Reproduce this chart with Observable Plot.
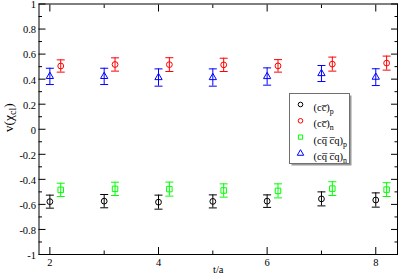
<!DOCTYPE html>
<html>
<head>
<meta charset="utf-8">
<script src="https://cdn.jsdelivr.net/npm/d3@7"></script>
<script src="https://cdn.jsdelivr.net/npm/@observablehq/plot@0.6"></script>
<style>
  html, body { margin: 0; padding: 0; background: white; }
  svg text { font-family: "Liberation Serif", "DejaVu Serif", serif !important; }
</style>
</head>
<body>
<div id="chart"></div>
<script>
// ---- data ----
const tA = [2, 3, 4, 5, 6, 7, 8];              // black circles / blue triangles
const tB = [2.2, 3.2, 4.2, 5.2, 6.2, 7.2, 8.2]; // red circles / green squares (shifted)

const ccP  = [-0.578, -0.574, -0.582, -0.576, -0.574, -0.556, -0.565];
const ccPe = [0.052, 0.053, 0.056, 0.052, 0.050, 0.056, 0.057];
const ccN  = [0.505, 0.517, 0.516, 0.514, 0.506, 0.520, 0.528];
const ccNe = [0.049, 0.053, 0.055, 0.053, 0.050, 0.056, 0.056];
const cqP  = [-0.484, -0.476, -0.478, -0.489, -0.492, -0.474, -0.482];
const cqPe = [0.053, 0.053, 0.056, 0.053, 0.056, 0.055, 0.055];
const cqN  = [0.422, 0.422, 0.413, 0.413, 0.421, 0.445, 0.416];
const cqNe = [0.065, 0.065, 0.069, 0.069, 0.069, 0.064, 0.067];

const seriesNames = ["(cc\u0305)_{p}", "(cc\u0305)_{n}", "(cq\u0305 c\u0305q)_{p}", "(cq\u0305 c\u0305q)_{n}"];

const xMajor = [2, 4, 6, 8];
const xMinor = [3, 5, 7];
const yMajor = [-1, -0.8, -0.6, -0.4, -0.2, 0, 0.2, 0.4, 0.6, 0.8, 1];
const yMinor = [-0.9, -0.7, -0.5, -0.3, -0.1, 0.1, 0.3, 0.5, 0.7, 0.9];

// ---- build tables ----
const mk = (ts, vs, es) => ts.map((t, i) => ({t, v: vs[i], e: es[i]}));
const series = [
  {name: seriesNames[0], data: mk(tA, ccP, ccPe), color: "#000000", symbol: "circle", r: 2.9},
  {name: seriesNames[1], data: mk(tB, ccN, ccNe), color: "#ff0000", symbol: "circle", r: 2.9},
  {name: seriesNames[2], data: mk(tB, cqP, cqPe), color: "#00ff00", symbol: "square", r: 3.1},
  {name: seriesNames[3], data: mk(tA, cqN, cqNe), color: "#0000ff", symbol: "triangle", r: 2.7}
];

const cap = {draw(ctx) { ctx.moveTo(-4, 0); ctx.lineTo(4, 0); }};

const marks = [];
for (const s of series) {
  marks.push(Plot.ruleX(s.data, {x: "t", y1: d => d.v - d.e, y2: d => d.v + d.e, stroke: s.color, strokeWidth: 1}));
  marks.push(Plot.dot(s.data, {x: "t", y: d => d.v - d.e, symbol: cap, stroke: s.color, strokeWidth: 1}));
  marks.push(Plot.dot(s.data, {x: "t", y: d => d.v + d.e, symbol: cap, stroke: s.color, strokeWidth: 1}));
  marks.push(Plot.dot(s.data, {x: "t", y: "v", symbol: s.symbol, r: s.r, stroke: s.color, fill: "none", strokeWidth: 1}));
}

// axes: inward ticks on all four sides, labels outside
const blank = () => "";
const axes = [
  Plot.axisX(xMajor, {anchor: "bottom", tickSize: 0, tickPadding: 4, label: null, tickFormat: d => String(d), fontSize: 10.5}),
  Plot.axisX(xMajor, {anchor: "bottom", tickSize: -7, tickFormat: blank, label: null}),
  Plot.axisX(xMinor, {anchor: "bottom", tickSize: -3.5, tickFormat: blank, label: null}),
  Plot.axisX(xMajor, {anchor: "top", tickSize: -7, tickFormat: blank, label: null}),
  Plot.axisX(xMinor, {anchor: "top", tickSize: -3.5, tickFormat: blank, label: null}),
  Plot.axisY(yMajor, {anchor: "left", tickSize: 0, tickPadding: 3, dy: 1, label: null, tickFormat: d => String(d), fontSize: 10.5}),
  Plot.axisY(yMajor, {anchor: "left", tickSize: -7, tickFormat: blank, label: null}),
  Plot.axisY(yMinor, {anchor: "left", tickSize: -3.5, tickFormat: blank, label: null}),
  Plot.axisY(yMajor, {anchor: "right", tickSize: -7, tickFormat: blank, label: null}),
  Plot.axisY(yMinor, {anchor: "right", tickSize: -3.5, tickFormat: blank, label: null})
];

// legend (positioned relative to the frame)
const legend = [
  Plot.frame({fill: "#9a9a9a", stroke: "none", insetLeft: 252.5, insetTop: 91.5, insetRight: 46, insetBottom: 89}),
  Plot.frame({fill: "white", stroke: "#707070", strokeWidth: 1, insetLeft: 250.5, insetTop: 89.5, insetRight: 48, insetBottom: 91})
];
series.forEach((s, i) => {
  legend.push(Plot.dot([s.name], {frameAnchor: "top-left", dx: 261.5, dy: 100.5 + i * 16.3,
    symbol: s.symbol, r: s.symbol === "circle" ? 2.3 : 2.4, stroke: s.color, fill: "none", strokeWidth: 1}));
  legend.push(Plot.text([s.name], {frameAnchor: "top-left", dx: 274.5, dy: 99.5 + i * 16.3,
    text: d => d, textAnchor: "start", fontSize: 10.5, fill: "black"}));
});

const chart = Plot.plot({
  width: 399,
  height: 277,
  marginLeft: 38.5,
  marginRight: 2,
  marginTop: 3.5,
  marginBottom: 23,
  x: {domain: [1.8, 8.4]},
  y: {domain: [-1, 1]},
  style: {fontFamily: "Liberation Serif", fontSize: "10.5px", background: "white", color: "black"},
  marks: [
    ...marks,
    ...axes,
    Plot.frame({stroke: "black", strokeWidth: 1}),
    ...legend,
    Plot.text(["t/a"], {frameAnchor: "bottom", dy: 18, text: d => d, fontSize: 10.5}),
    Plot.text(["v(\u03c7_{cl})"], {frameAnchor: "left", dx: -30, dy: 3, rotate: -90, text: d => d, fontSize: 13.5})
  ]
});

// render "_{...}" as subscripts
d3.select(chart).selectAll("text").each(function() {
  const s = this.textContent;
  if (!s.includes("_{")) return;
  const node = d3.select(this);
  node.text(null);
  const re = /_\{([^}]*)\}/g;
  let last = 0, m, down = false;
  while ((m = re.exec(s))) {
    const before = s.slice(last, m.index);
    if (before) { const t = node.append("tspan").text(before); if (down) { t.attr("dy", -3); down = false; } }
    node.append("tspan").attr("dy", 3).attr("font-size", "0.75em").text(m[1]);
    down = true;
    last = re.lastIndex;
  }
  const rest = s.slice(last);
  if (rest) { const t = node.append("tspan").text(rest); if (down) t.attr("dy", -3); }
});

document.getElementById("chart").appendChild(chart);
</script>
</body>
</html>
